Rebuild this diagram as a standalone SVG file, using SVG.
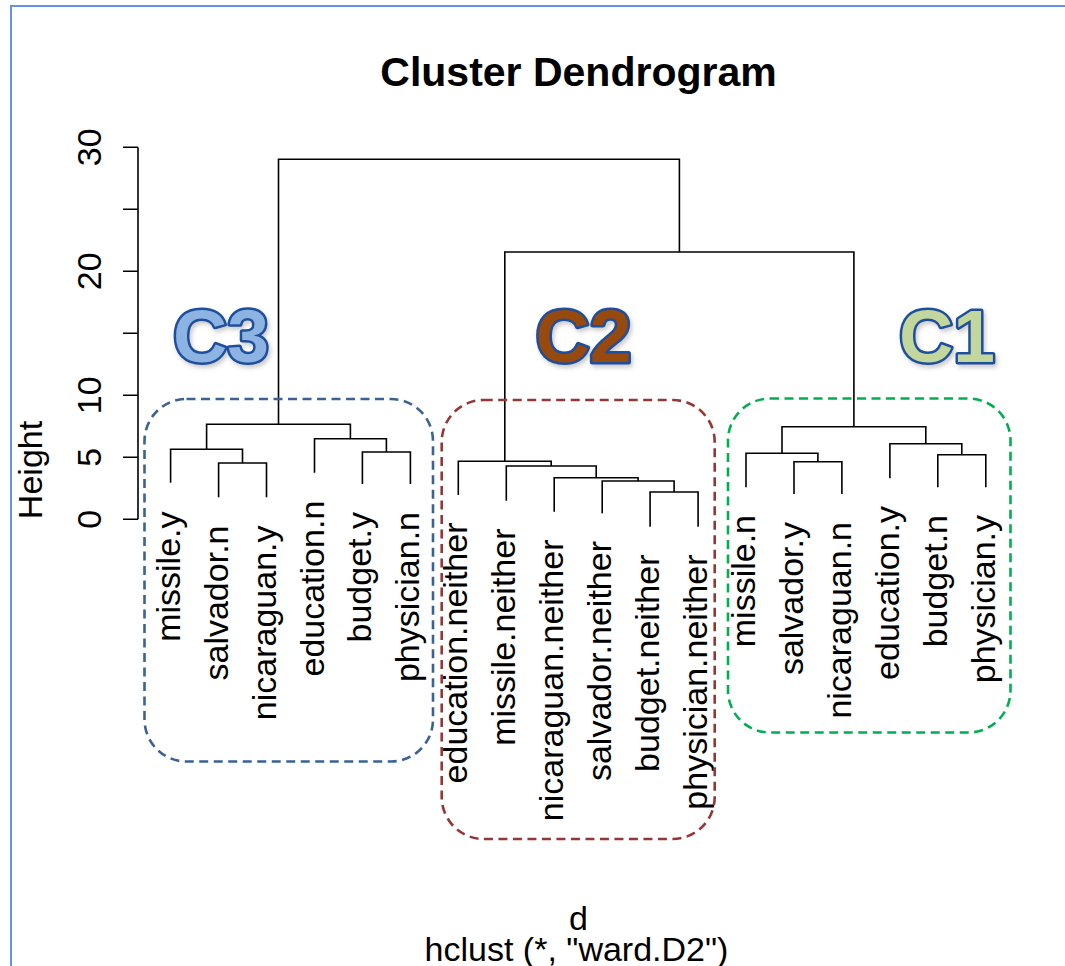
<svg xmlns="http://www.w3.org/2000/svg" width="1065" height="966" viewBox="0 0 1065 966">
<style>
text{font-family:"Liberation Sans",Arial,sans-serif;fill:#000}
.t{font-size:34px}
.lab{font-size:34px;text-anchor:end}
.tick{font-size:34px;text-anchor:middle}
.ttl{font-size:41px;font-weight:bold;text-anchor:middle}
.ln{fill:none;stroke:#000;stroke-width:1.6}
.box{fill:none;stroke-width:2.6;stroke-dasharray:9 5.5}
text.big{font-size:75px;font-weight:bold;stroke:#1E4F9E;stroke-width:5;paint-order:stroke;stroke-linejoin:round;filter:url(#sh)}
text.c3{fill:#8DB3E2}
text.c2{fill:#984807}
text.c1{fill:#C3D69B}
</style>
<defs>
<filter id="sh" x="-20%" y="-20%" width="150%" height="150%">
<feDropShadow dx="2" dy="3" stdDeviation="2" flood-color="#555" flood-opacity="0.3"/>
</filter>
</defs>
<rect width="1065" height="966" fill="#fff"/>
<g id="frame">
<path d="M11 966 V6 H1065" fill="none" stroke="#6495E0" stroke-width="2"/>
</g>
<g id="title"><text class="ttl" x="578.5" y="86">Cluster Dendrogram</text></g>
<g id="axis">
<path class="ln" d="M138 147.3 V519.3 M123 519.3 H138 M123 457.3 H138 M123 395.3 H138 M123 333.3 H138 M123 271.3 H138 M123 209.3 H138 M123 147.3 H138"/>
<text class="tick" transform="translate(101 519.3) rotate(-90)">0</text>
<text class="tick" transform="translate(101 457.3) rotate(-90)">5</text>
<text class="tick" transform="translate(101 395.3) rotate(-90)">10</text>
<text class="tick" transform="translate(101 271.3) rotate(-90)">20</text>
<text class="tick" transform="translate(101 147.3) rotate(-90)">30</text>
<text class="tick" transform="translate(42 470) rotate(-90)">Height</text>
</g>
<g id="connectors">
<path class="ln" d="M218.6 497.3 V463 H266.5 V497.3"/>
<path class="ln" d="M170.6 482.7 V449.3 H242.5 V463"/>
<path class="ln" d="M362.4 484 V452 H410.4 V484"/>
<path class="ln" d="M314.5 472.7 V438.7 H386.4 V452"/>
<path class="ln" d="M206.6 449.3 V424.3 H350.4 V438.7"/>
<path class="ln" d="M650.1 526.7 V492 H698.1 V526.7"/>
<path class="ln" d="M602.2 513.3 V481 H674.1 V492"/>
<path class="ln" d="M554.2 511.7 V477.7 H638.1 V481"/>
<path class="ln" d="M506.3 500.7 V466 H596.2 V477.7"/>
<path class="ln" d="M458.3 495 V461.3 H551.2 V466"/>
<path class="ln" d="M794 494 V461.7 H841.9 V494"/>
<path class="ln" d="M746 487.3 V453.3 H817.9 V461.7"/>
<path class="ln" d="M937.8 487.3 V454.7 H985.8 V487.3"/>
<path class="ln" d="M889.9 478.3 V443.7 H961.8 V454.7"/>
<path class="ln" d="M782 453.3 V426.7 H925.8 V443.7"/>
<path class="ln" d="M504.8 461.3 V252 H853.9 V426.7"/>
<path class="ln" d="M278.5 424.3 V159.3 H679.4 V252"/>
</g>
<g id="leaves">
<text id="leaf-missile-y" class="lab" transform="translate(179.6 511.5) rotate(-90)">missile.y</text>
<text id="leaf-salvador-n" class="lab" transform="translate(227.6 525.5) rotate(-90)">salvador.n</text>
<text id="leaf-nicaraguan-y" class="lab" transform="translate(275.5 525.5) rotate(-90)">nicaraguan.y</text>
<text id="leaf-education-n" class="lab" transform="translate(323.5 500.7) rotate(-90)">education.n</text>
<text id="leaf-budget-y" class="lab" transform="translate(371.4 512) rotate(-90)">budget.y</text>
<text id="leaf-physician-n" class="lab" transform="translate(419.4 512) rotate(-90)">physician.n</text>
<text id="leaf-education-neither" class="lab" transform="translate(467.3 522.5) rotate(-90)">education.neither</text>
<text id="leaf-missile-neither" class="lab" transform="translate(515.3 528.5) rotate(-90)">missile.neither</text>
<text id="leaf-nicaraguan-neither" class="lab" transform="translate(563.2 539.5) rotate(-90)">nicaraguan.neither</text>
<text id="leaf-salvador-neither" class="lab" transform="translate(611.2 541) rotate(-90)">salvador.neither</text>
<text id="leaf-budget-neither" class="lab" transform="translate(659.1 554.5) rotate(-90)">budget.neither</text>
<text id="leaf-physician-neither" class="lab" transform="translate(707.1 554.5) rotate(-90)">physician.neither</text>
<text id="leaf-missile-n" class="lab" transform="translate(755 515) rotate(-90)">missile.n</text>
<text id="leaf-salvador-y" class="lab" transform="translate(803 522) rotate(-90)">salvador.y</text>
<text id="leaf-nicaraguan-n" class="lab" transform="translate(850.9 522) rotate(-90)">nicaraguan.n</text>
<text id="leaf-education-y" class="lab" transform="translate(898.9 506) rotate(-90)">education.y</text>
<text id="leaf-budget-n" class="lab" transform="translate(946.8 515) rotate(-90)">budget.n</text>
<text id="leaf-physician-y" class="lab" transform="translate(994.8 515) rotate(-90)">physician.y</text>
</g>
<g id="cluster-C3">
<rect class="box" x="144.5" y="399" width="288.5" height="362.5" rx="42" stroke="#3A6295"/>
<text class="big c3" x="173" y="362">C3</text>
</g>
<g id="cluster-C2">
<rect class="box" x="441.7" y="400" width="273" height="439" rx="42" stroke="#953735"/>
<text class="big c2" x="535.5" y="362">C2</text>
</g>
<g id="cluster-C1">
<rect class="box" x="728" y="398.5" width="282.5" height="334" rx="42" stroke="#00B050"/>
<text class="big c1" x="899" y="362">C1</text>
</g>
<g id="subtitle">
<text class="t" x="578.5" y="930" text-anchor="middle">d</text>
<text class="t" x="576.5" y="961" text-anchor="middle">hclust (*, "ward.D2")</text>
</g>
</svg>
